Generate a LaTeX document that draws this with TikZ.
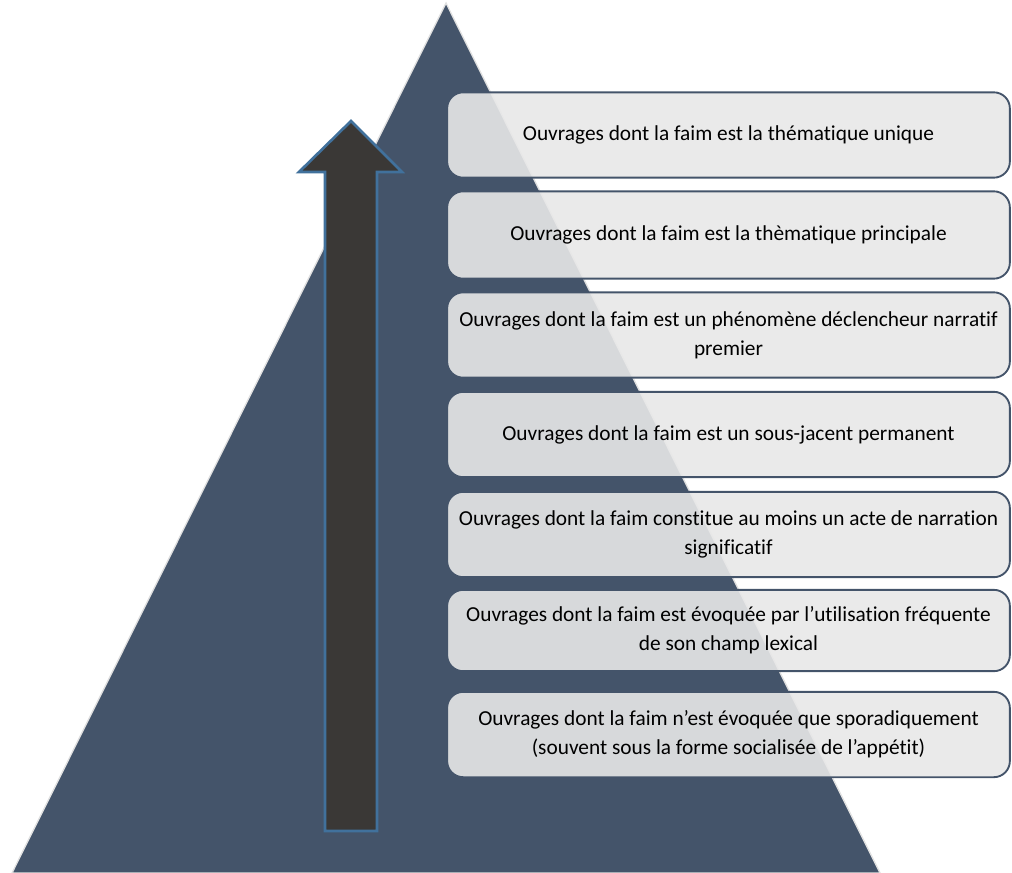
\documentclass[tikz,border=0pt]{standalone}
\usepackage{fontspec}
\setmainfont{Carlito}[Ligatures={NoCommon,NoContextual}]
\definecolor{pyramidcolor}{HTML}{44546A}
\definecolor{arrowcolor}{HTML}{3A3836}
\definecolor{arrowborder}{HTML}{41719C}
\colorlet{boxcolor}{black!9}
\colorlet{bordercolor}{pyramidcolor}
\colorlet{edgecolor}{black!12}
\tikzset{pyramid/.style={fill=pyramidcolor, draw=edgecolor, line width=1pt},%
    uparrow/.style={fill=arrowcolor, draw=arrowborder, line width=2pt, line join=miter},%
    levelbox/.style={shape=rectangle, rounded corners=12pt, fill=boxcolor, fill opacity=0.9, text opacity=1,%
        draw=bordercolor, line width=1.4pt, minimum width=422pt, minimum height=64pt, inner sep=0pt, align=center,%
        font=\fontsize{16}{21.75}\selectfont}%
}

\begin{document}
\begin{tikzpicture}[x=0.75pt, y=-0.75pt]
    \useasboundingbox (0,0) rectangle (1012,872);
    \begin{scope} %draw pyramid
        \coordinate (top) at (446,3);
        \coordinate (baseleft) at (12,873);
        \coordinate (baseright) at (880,873);
        \path[pyramid] (top) -- (baseright) -- (baseleft) -- cycle;
    \end{scope}
    \begin{scope} %draw arrow
        \coordinate (tip) at (351,121);
        \path[uparrow] (tip) -- (402,172) -- (377,172) -- (377,831) -- (325,831) -- (325,172) -- (299,172) -- cycle;
    \end{scope}
    \begin{scope} %draw levels
        \node[levelbox] (l7) at (728.5,135) {Ouvrages dont la faim est la thématique unique};
        \node[levelbox, minimum height=65.5pt] (l6) at (728.5,235) {Ouvrages dont la faim est la thèmatique principale};
        \node[levelbox] (l5) at (728.5,335) {Ouvrages dont la faim est un phénomène déclencheur narratif\\premier};
        \node[levelbox] (l4) at (728.5,434.5) {Ouvrages dont la faim est un sous-jacent permanent};
        \node[levelbox] (l3) at (728.5,534.5) {Ouvrages dont la faim constitue au moins un acte de narration\\significatif};
        \node[levelbox, minimum height=61pt] (l2) at (728.5,630.5) {Ouvrages dont la faim est évoquée par l’utilisation fréquente\\de son champ lexical};
        \node[levelbox] (l1) at (728.5,734.5) {Ouvrages dont la faim n’est évoquée que sporadiquement\\(souvent sous la forme socialisée de l’appétit)};
    \end{scope}
\end{tikzpicture}
\end{document}
